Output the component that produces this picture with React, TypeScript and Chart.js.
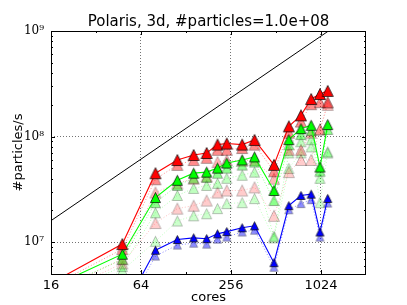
import React, { useEffect, useRef } from 'react';
import { Chart, registerables } from 'chart.js';

Chart.register(...registerables);

// ---- data ----
const cores = [16, 48, 80, 112, 144, 176, 208, 240, 304, 368, 496, 624, 752, 880, 1008, 1136];

const redBest = [4.1e6, 9.6e6, 4.5e7, 6.0e7, 6.7e7, 7.0e7, 8.4e7, 8.6e7, 8.4e7, 9.3e7, 5.4e7, 1.25e8, 1.59e8, 2.27e8, 2.53e8, 2.71e8];
const redNear = [3.8e6, 8.6e6, 3.95e7, 5.4e7, 6.0e7, 6.3e7, 7.5e7, 7.5e7, 7.8e7, 8.4e7, 4.7e7, 1.09e8, 1.39e8, 2.03e8, 2.12e8, 2.12e8];
const redMid = [3.3e6, 6.9e6, 2.96e7, 3.6e7, 4.0e7, 4.2e7, 5.75e7, 6.0e7, 5.9e7, 6.0e7, 4.0e7, 7.5e7, 7.5e7, 1.09e8, 1.17e8, 2.0e8];
const redLow = [3.0e6, 6.3e6, 1.52e7, 2.08e7, 2.22e7, 2.48e7, 2.96e7, 3.09e7, 3.09e7, 3.31e7, 1.78e7, 4.61e7, 6.01e7, 6.01e7, 1.17e8, 2.1e8];

const greenBest = [3.75e6, 7.7e6, 2.65e7, 3.86e7, 4.51e7, 4.61e7, 5.03e7, 5.62e7, 6.01e7, 6.42e7, 3.09e7, 9.36e7, 1.19e8, 1.28e8, 5.15e7, 1.30e8];
const greenNear = [3.4e6, 6.9e6, 2.37e7, 3.45e7, 4.03e7, 4.12e7, 4.51e7, 5.03e7, 5.38e7, 5.75e7, 2.48e7, 8.38e7, 1.045e8, 1.14e8, 4.71e7, 1.17e8];
const greenMid = [2.9e6, 5.9e6, 1.90e7, 2.77e7, 3.23e7, 3.45e7, 3.61e7, 4.03e7, 4.31e7, 4.61e7, 1.14e7, 7.02e7, 8.95e7, 9.36e7, 4.03e7, 7.17e7];
const greenLow = [2.6e6, 5.4e6, 1.02e7, 1.59e7, 1.78e7, 1.86e7, 2.08e7, 2.32e7, 2.37e7, 2.59e7, 1.1e7, 5.0e7, 7.02e7, 8.0e7, 2.37e7, 7.0e7];

const blueBest = [1.2e6, 2.2e6, 8.4e6, 1.06e7, 1.1e7, 1.08e7, 1.2e7, 1.26e7, 1.37e7, 1.43e7, 6.4e6, 2.22e7, 2.77e7, 2.85e7, 1.25e7, 2.6e7];
const blueNear = [1.1e6, 2.0e6, 7.4e6, 9.4e6, 9.8e6, 9.6e6, 1.07e7, 1.12e7, 1.25e7, 1.3e7, 5.8e6, 2.03e7, 2.32e7, 2.53e7, 1.12e7, 2.35e7];

const idealCores = [16, 2048];
const idealRate = [1.6e7, 1.75e9];

const xMajorTicks = [16, 64, 256, 1024];
const xMinorTicks = [32, 128, 512];
const yMajorTicks = [1e7, 1e8, 1e9];
const yTickLabels = ['10\u2077', '10\u2078', '10\u2079'];
const yMinorTicks = [5e6, 6e6, 7e6, 8e6, 9e6, 2e7, 3e7, 4e7, 5e7, 6e7, 7e7, 8e7, 9e7, 2e8, 3e8, 4e8, 5e8, 6e8, 7e8, 8e8, 9e8];

const titleText = 'Polaris, 3d, #particles=1.0e+08';
const xTitle = 'cores';
const yTitle = '#particles/s';

// matplotlib-like '^' marker (width == height)
function triangleMarker(size: number, fill: string, edge: string) {
  const s = Math.ceil(size + 3);
  const cv = document.createElement('canvas');
  cv.width = s;
  cv.height = s;
  const g = cv.getContext('2d')!;
  const c = s / 2;
  const h = size / 2;
  g.beginPath();
  g.moveTo(c, c - h);
  g.lineTo(c - h, c + h);
  g.lineTo(c + h, c + h);
  g.closePath();
  g.fillStyle = fill;
  g.fill();
  g.lineWidth = 0.7;
  g.strokeStyle = edge;
  g.stroke();
  return cv;
}

function series(values: number[], line: string, fill: string, edge: string, size: number, width: number, dashed: boolean) {
  const marker = triangleMarker(size, fill, edge);
  return {
    data: cores.map((c, i) => ({ x: c, y: values[i] })),
    borderColor: line,
    borderWidth: width,
    borderDash: dashed ? [1, 2] : [],
    pointStyle: marker,
    pointRadius: size / 2,
    pointHoverRadius: size / 2,
    fill: false,
    tension: 0,
  };
}

const framePlugin = {
  id: 'frame',
  afterDraw(chart: any) {
    const { ctx, chartArea: a, scales } = chart;
    const xs = scales.x;
    const ys = scales.y;
    ctx.save();
    ctx.strokeStyle = '#000';
    ctx.lineWidth = 1;
    const vx = (v: number, len: number) => {
      const p = Math.round(xs.getPixelForValue(v)) + 0.5;
      ctx.beginPath();
      ctx.moveTo(p, a.bottom); ctx.lineTo(p, a.bottom - len);
      ctx.moveTo(p, a.top); ctx.lineTo(p, a.top + len);
      ctx.stroke();
    };
    const vy = (v: number, len: number) => {
      const p = Math.round(ys.getPixelForValue(v)) + 0.5;
      ctx.beginPath();
      ctx.moveTo(a.left, p); ctx.lineTo(a.left + len, p);
      ctx.moveTo(a.right, p); ctx.lineTo(a.right - len, p);
      ctx.stroke();
    };
    xMajorTicks.forEach((v) => vx(v, 4));
    xMinorTicks.forEach((v) => vx(v, 2));
    yMajorTicks.forEach((v) => vy(v, 4));
    yMinorTicks.forEach((v) => vy(v, 2));
    ctx.strokeRect(a.left + 0.5, a.top + 0.5, a.right - a.left - 1, a.bottom - a.top);

    ctx.fillStyle = '#000';
    ctx.textAlign = 'center';
    ctx.textBaseline = 'alphabetic';
    ctx.font = '15px "DejaVu Sans"';
    ctx.fillText(titleText, (a.left + a.right) / 2, 26);
    ctx.font = '13px "DejaVu Sans"';
    ctx.fillText(xTitle, (a.left + a.right) / 2, 301);
    ctx.translate(19, (a.top + a.bottom) / 2);
    ctx.rotate(-Math.PI / 2);
    ctx.textBaseline = 'middle';
    ctx.fillText(yTitle, 0, 0);
    ctx.restore();
  },
};

export default function App() {
  const ref = useRef<HTMLCanvasElement | null>(null);

  useEffect(() => {
    if (!ref.current) return;
    const datasets: any[] = [
      series(redBest, '#ff0000', '#ff0000', '#000000', 11, 1.1, false),
      series(greenBest, '#00ff00', '#00ff00', '#000000', 10, 1.1, false),
      series(blueBest, '#0000ff', '#0000ff', '#000000', 8, 1.1, false),
      series(redNear, 'rgba(255,0,0,0.45)', 'rgba(255,0,0,0.45)', 'rgba(0,0,0,0.45)', 11, 1, true),
      series(greenNear, 'rgba(0,255,0,0.45)', 'rgba(0,255,0,0.45)', 'rgba(0,0,0,0.45)', 10, 1, true),
      series(blueNear, 'rgba(0,0,255,0.45)', 'rgba(0,0,255,0.45)', 'rgba(0,0,0,0.45)', 8, 1, true),
      series(redMid, 'rgba(255,0,0,0.3)', 'rgba(255,0,0,0.28)', 'rgba(0,0,0,0.35)', 11, 1, true),
      series(greenMid, 'rgba(0,255,0,0.3)', 'rgba(0,255,0,0.25)', 'rgba(0,0,0,0.35)', 10, 1, true),
      series(redLow, 'rgba(255,0,0,0.25)', 'rgba(255,0,0,0.2)', 'rgba(0,0,0,0.35)', 11, 1, true),
      series(greenLow, 'rgba(0,255,0,0.25)', 'rgba(0,255,0,0.2)', 'rgba(0,0,0,0.35)', 10, 1, true),
      {
        data: idealCores.map((c, i) => ({ x: c, y: idealRate[i] })),
        borderColor: '#000000',
        borderWidth: 1,
        pointRadius: 0,
        fill: false,
      },
    ];

    const chart = new Chart(ref.current, {
      type: 'line',
      data: { datasets },
      plugins: [framePlugin],
      options: {
        responsive: false,
        animation: false,
        events: [],
        layout: { padding: { left: 0, right: 41, top: 31, bottom: 0 } },
        plugins: { legend: { display: false }, title: { display: false }, tooltip: { enabled: false } },
        scales: {
          x: {
            type: 'logarithmic',
            min: 16,
            max: 2048,
            afterBuildTicks: (s: any) => {
              s.ticks = [...xMajorTicks, ...xMinorTicks].sort((p, q) => p - q).map((v) => ({ value: v }));
            },
            afterFit: (s: any) => { s.height = 31; },
            ticks: {
              autoSkip: false,
              maxRotation: 0,
              padding: 4,
              color: '#000',
              font: { family: 'DejaVu Sans', size: 13 },
              callback: (v: any) => (xMajorTicks.includes(Number(v)) ? String(v) : ''),
            },
            grid: {
              drawTicks: false,
              lineWidth: 1,
              color: (c: any) => (c.tick && xMajorTicks.includes(c.tick.value) ? 'rgba(0,0,0,0.55)' : 'rgba(0,0,0,0)'),
            },
            border: { display: false, dash: [1, 2] },
          },
          y: {
            type: 'logarithmic',
            min: 5e6,
            max: 1e9,
            afterBuildTicks: (s: any) => {
              s.ticks = [...yMajorTicks, ...yMinorTicks].sort((p, q) => p - q).map((v) => ({ value: v }));
            },
            afterFit: (s: any) => { s.width = 51; },
            ticks: {
              autoSkip: false,
              padding: 7,
              color: '#000',
              font: { family: 'DejaVu Serif', size: 12 },
              callback: (v: any) => {
                const i = yMajorTicks.indexOf(Number(v));
                return i >= 0 ? yTickLabels[i] : '';
              },
            },
            grid: {
              drawTicks: false,
              lineWidth: 1,
              color: (c: any) => (c.tick && yMajorTicks.includes(c.tick.value) ? 'rgba(0,0,0,0.55)' : 'rgba(0,0,0,0)'),
            },
            border: { display: false, dash: [1, 2] },
          },
        },
      } as any,
    });
    return () => chart.destroy();
  }, []);

  return (
    <div style={{ position: 'fixed', left: 0, top: 0, width: 407, height: 305, background: '#fff' }}>
      <canvas ref={ref} width={407} height={305} style={{ width: 407, height: 305, display: 'block' }} />
    </div>
  );
}
